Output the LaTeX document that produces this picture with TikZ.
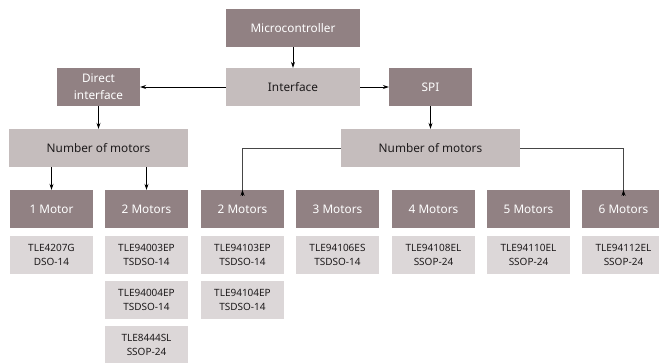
\documentclass[tikz,border=0pt]{standalone}
\usepackage{fontspec}
\setmainfont{Noto Sans}
\usetikzlibrary{arrows.meta}
\definecolor{darkbox}{RGB}{145,129,131}
\definecolor{midbox}{RGB}{197,189,189}
\definecolor{lightbox}{RGB}{220,215,216}
\definecolor{txtdark}{RGB}{30,27,28}
\definecolor{linegrey}{RGB}{70,70,70}
\tikzset{
  base/.style={inner sep=0pt, align=center, minimum height=38pt},
  dark/.style={base, fill=darkbox, text=white, font=\fontsize{11.8}{17}\selectfont, minimum width=83pt},
  mid/.style={base, fill=midbox, text=txtdark, font=\fontsize{11.8}{17}\selectfont},
  part/.style={base, fill=lightbox, text=txtdark, font=\fontsize{10}{14}\selectfont, minimum width=83pt},
  arr/.style={-{Stealth[length=6pt,width=4pt]}, line width=0.8pt, black},
  branch/.style={line width=0.8pt, linegrey}
}
\begin{document}
\begin{tikzpicture}[x=1pt,y=-1pt]
\useasboundingbox (0,0) rectangle (659,363);
\node[dark, minimum width=134pt] (mc) at (293,28) {Microcontroller};
\node[mid, minimum width=134pt] (if) at (293,87) {Interface};
\node[dark] (di) at (98.5,87) {Direct\\interface};
\node[dark] (spi) at (430.5,87) {SPI};
\node[mid, minimum width=179pt] (nl) at (98.5,148) {Number of motors};
\node[mid, minimum width=179pt] (nr) at (430.5,148) {Number of motors};

\node[dark] (m1) at (51.5,209) {1 Motor};
\node[dark] (m2) at (146.5,209) {2 Motors};
\node[dark] (m2b) at (242.5,209) {2 Motors};
\node[dark] (m3) at (337.5,209) {3 Motors};
\node[dark] (m4) at (433.5,209) {4 Motors};
\node[dark] (m5) at (528.5,209) {5 Motors};
\node[dark] (m6) at (623.5,209) {6 Motors};

\node[part] (p1) at (51.5,255) {TLE4207G\\DSO-14};
\node[part] (p2a) at (146.5,255) {TLE94003EP\\TSDSO-14};
\node[part] (p2b) at (146.5,300) {TLE94004EP\\TSDSO-14};
\node[part] (p2c) at (146.5,345) {TLE8444SL\\SSOP-24};
\node[part] (p3a) at (242.5,255) {TLE94103EP\\TSDSO-14};
\node[part] (p3b) at (242.5,300) {TLE94104EP\\TSDSO-14};
\node[part] (p4) at (337.5,255) {TLE94106ES\\TSDSO-14};
\node[part] (p5) at (433.5,255) {TLE94108EL\\SSOP-24};
\node[part] (p6) at (528.5,255) {TLE94110EL\\SSOP-24};
\node[part] (p7) at (623.5,255) {TLE94112EL\\SSOP-24};

\draw[arr] (mc) -- (if);
\draw[arr] (if) -- (di);
\draw[arr] (if) -- (spi);
\draw[arr] (di) -- (nl);
\draw[arr] (spi) -- (nr);
\draw[arr] (nl.south -| m1.north) -- (m1.north);
\draw[arr] (nl.south -| m2.north) -- (m2.north);
\draw[branch] (nr.west) -| ([yshift=-6pt]m2b.north);
\draw[arr] ([yshift=-6pt]m2b.north) -- (m2b.north);
\draw[branch] (nr.east) -| ([yshift=-6pt]m6.north);
\draw[arr] ([yshift=-6pt]m6.north) -- (m6.north);
\end{tikzpicture}
\end{document}
